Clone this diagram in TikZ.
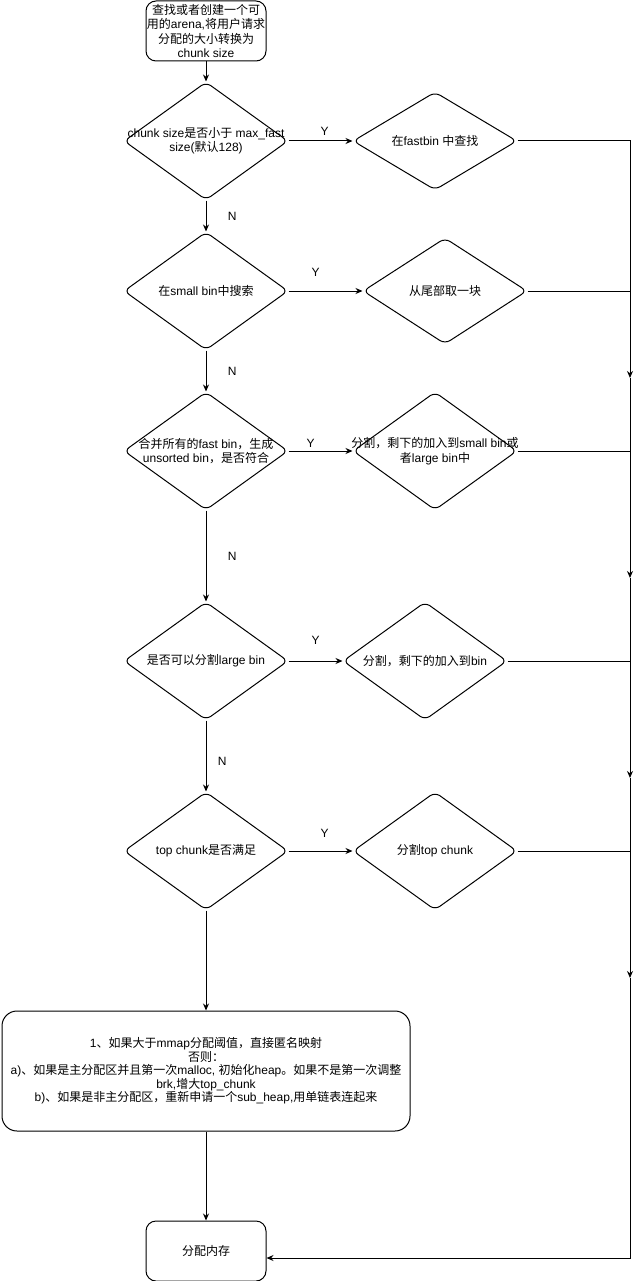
\documentclass[tikz,border=0pt]{standalone}
\usepackage{fontspec}
\setmainfont{Liberation Sans}
\newfontfamily\latinfont{Liberation Sans}
\newfontfamily\cjkfont{Noto Sans CJK SC}
\usepackage{tikz}
\usetikzlibrary{shapes.geometric, arrows.meta}
\XeTeXinterchartokenstate=1
\newXeTeXintercharclass\cjkclass
\newcount\cjkcount
\def\setcjkrange#1#2{\cjkcount=#1 \loop\XeTeXcharclass\cjkcount=\cjkclass \advance\cjkcount by 1 \ifnum\cjkcount<#2 \repeat}
\setcjkrange{"3000}{"3040}
\setcjkrange{"4E00}{"A000}
\setcjkrange{"FF00}{"FFF0}
\XeTeXinterchartoks 0 \cjkclass = {\cjkfont}
\XeTeXinterchartoks 4095 \cjkclass = {\cjkfont}
\XeTeXinterchartoks \cjkclass 0 = {\latinfont}
\XeTeXinterchartoks \cjkclass 4095 = {\latinfont}
\tikzstyle{startstop} = [rectangle, rounded corners=10pt, minimum width=120pt, minimum height=60pt, inner sep=0pt, text centered, align=center, draw=black]
\tikzstyle{bigbox} = [rectangle, rounded corners=15pt, minimum width=408pt, minimum height=120pt, inner sep=0pt, text centered, align=center, draw=black]
\tikzstyle{decision} = [diamond, rounded corners=6pt, minimum width=164pt, minimum height=118pt, inner sep=0pt, draw=black]
\tikzstyle{arrow} = [->, >={Stealth[length=7pt,width=6pt]}]

\begin{document}
\begin{tikzpicture}[line width=1pt, node distance=150pt, font=\fontsize{12}{14.5}\selectfont, every label/.style={align=center}]
    \useasboundingbox (0,0) rectangle (639pt,-1281pt);
    \node (start) [startstop] at (206pt,-31pt) {查找或者创建一个可\\用的arena,将用户请求\\分配的大小转换为\\chunk size};
    \node (d1) [decision, below of=start, yshift=40pt, label={center:chunk size是否小于 max\_fast\\size(默认128)}] {};
    \draw [arrow] (start) -- (d1);
    \node (r1) [decision, right of=d1, xshift=79pt, minimum height=98pt, label={center:在fastbin 中查找}] {};
    \draw [arrow] (d1) -- node[above, yshift=2pt, xshift=4pt] {Y} (r1);
    \node (d2) [decision, below of=d1, label={center:在small bin中搜索}] {};
    \draw [arrow] (d1) -- node[right, xshift=18pt] {N} (d2);
    \node (r2) [decision, right of=d2, xshift=89pt, minimum height=106pt, label={center:从尾部取一块}] {};
    \draw [arrow] (d2) -- node[above, yshift=11pt, xshift=-10pt] {Y} (r2);
    \node (d3) [decision, below of=d2, yshift=-10pt, label={center:合并所有的fast bin，生成\\unsorted bin，是否符合}] {};
    \draw [arrow] (d2) -- node[right, xshift=18pt] {N} (d3);
    \node (r3) [decision, right of=d3, xshift=79pt, label={center:分割，剩下的加入到small bin或\\者large bin中}] {};
    \draw [arrow] (d3) -- node[above, xshift=-10pt] {Y} (r3);
    \node (d4) [decision, below of=d3, yshift=-60pt, label={center:是否可以分割large bin}] {};
    \draw [arrow] (d3) -- node[right, xshift=18pt] {N} (d4);
    \node (r4) [decision, right of=d4, xshift=69pt, label={center:分割，剩下的加入到bin}] {};
    \draw [arrow] (d4) -- node[above, yshift=13pt] {Y} (r4);
    \node (d5) [decision, below of=d4, yshift=-40pt, label={center:top chunk是否满足}] {};
    \draw [arrow] (d4) -- node[right, xshift=8pt, yshift=-5pt] {N} (d5);
    \node (r5) [decision, right of=d5, xshift=79pt, label={center:分割top chunk}] {};
    \draw [arrow] (d5) -- node[above, yshift=10pt, xshift=4pt] {Y} (r5);
    \node (bb) [bigbox, below of=d5, yshift=-70pt, font=\fontsize{12}{13.5}\selectfont] {1、如果大于mmap分配阈值，直接匿名映射\\否则：\\a)、如果是主分配区并且第一次malloc, 初始化heap。如果不是第一次调整\\brk,增大top\_chunk\\b)、如果是非主分配区，重新申请一个sub\_heap,用单链表连起来};
    \draw [arrow] (d5) -- (bb);
    \node (endn) [startstop, below of=bb, yshift=-30pt] {分配内存};
    \draw [arrow] (bb) -- (endn);
    \coordinate (m1) at (630pt,-378pt);
    \coordinate (m2) at (630pt,-578pt);
    \coordinate (m3) at (630pt,-778pt);
    \coordinate (m4) at (630pt,-978pt);
    \draw [arrow] (r1) -| (m1);
    \draw (r2) -- (r2 -| m1);
    \draw [arrow] (m1) -- (m2);
    \draw (r3) -- (r3 -| m1);
    \draw [arrow] (m2) -- (m3);
    \draw (r4) -- (r4 -| m1);
    \draw [arrow] (m3) -- (m4);
    \draw (r5) -- (r5 -| m1);
    \draw [arrow] (m4) |- ([yshift=-7pt]endn.east);
\end{tikzpicture}
\end{document}
